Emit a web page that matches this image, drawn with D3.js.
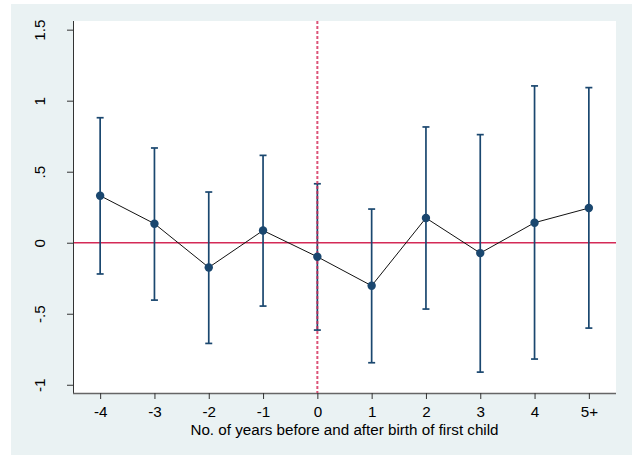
<!DOCTYPE html>
<html>
<head>
<meta charset="utf-8">
<script src="https://cdn.jsdelivr.net/npm/d3@7"></script>
<style>
  html, body { margin: 0; padding: 0; background: #ffffff; }
  svg { display: block; }
  text { font-family: "Liberation Sans", Arial, sans-serif; fill: #000; }
</style>
</head>
<body>
<div id="chart"></div>
<script>
// Event-study estimates with 95% confidence intervals
const periods   = ["-4", "-3", "-2", "-1", "0", "1", "2", "3", "4", "5+"];
const estimates = [0.331, 0.134, -0.174, 0.086, -0.099, -0.303, 0.174, -0.073, 0.141, 0.244];
const ciLower   = [-0.220, -0.404, -0.709, -0.446, -0.615, -0.845, -0.467, -0.911, -0.819, -0.601];
const ciUpper   = [0.880, 0.667, 0.357, 0.615, 0.415, 0.237, 0.815, 0.761, 1.104, 1.092];
const yTicks    = [-1, -0.5, 0, 0.5, 1, 1.5];
const yTickLabels = ["-1", "-.5", "0", ".5", "1", "1.5"];
const xTitle    = "No. of years before and after birth of first child";

const W = 637, H = 455;
const plot = { left: 73, right: 616, top: 21, bottom: 393 };
const fontSize = 15.2;

const svg = d3.select("#chart").append("svg")
  .attr("width", W).attr("height", H);

// graph region and plot region backgrounds
svg.append("rect").attr("x", 11).attr("y", 4)
  .attr("width", 621).attr("height", 451).attr("fill", "#eaf2f3");
svg.append("rect").attr("x", plot.left).attr("y", plot.top)
  .attr("width", plot.right - plot.left).attr("height", plot.bottom - plot.top)
  .attr("fill", "#ffffff");

const x = d3.scaleLinear().domain([-0.5, periods.length - 0.5])
  .range([plot.left, plot.right]);
const y = d3.scaleLinear().domain([-1.058, 1.561])
  .range([plot.bottom, plot.top]);

// y axis
const yAxis = d3.axisLeft(y).tickValues(yTicks)
  .tickSize(6).tickFormat((d, i) => yTickLabels[i]);
const gy = svg.append("g").attr("transform", `translate(${plot.left},0)`).call(yAxis);
gy.select(".domain").attr("stroke", "#333").attr("stroke-width", 1)
  .attr("d", `M0.5,${plot.top}V${plot.bottom}`);
gy.selectAll(".tick line").attr("stroke", "#333");
gy.selectAll(".tick text")
  .attr("font-size", fontSize)
  .attr("text-anchor", "middle")
  .attr("x", null).attr("dy", null)
  .attr("transform", "translate(-28,0) rotate(-90)");

// x axis
const xAxis = d3.axisBottom(x).tickValues(d3.range(periods.length))
  .tickSize(6).tickFormat(i => periods[i]);
const gx = svg.append("g").attr("transform", `translate(0,${plot.bottom})`).call(xAxis);
gx.select(".domain").attr("stroke", "#666").attr("stroke-width", 1.4)
  .attr("d", `M${plot.left},0.5H${plot.right}`);
gx.selectAll(".tick line").attr("stroke", "#333");
gx.selectAll(".tick text").attr("font-size", fontSize).attr("y", 24).attr("dy", null);

svg.append("text")
  .attr("x", (plot.left + plot.right) / 2).attr("y", 434.5)
  .attr("text-anchor", "middle").attr("font-size", fontSize)
  .text(xTitle);

const navy = "#1a476f";
const red = "#d42a57";

// reference line at zero
svg.append("line")
  .attr("x1", plot.left + 1).attr("x2", plot.right)
  .attr("y1", y(0)).attr("y2", y(0))
  .attr("stroke", red).attr("stroke-width", 1.6);

// confidence intervals
const bars = svg.append("g");
bars.selectAll("line.ci").data(periods).join("line")
  .attr("class", "ci")
  .attr("x1", (d, i) => x(i)).attr("x2", (d, i) => x(i))
  .attr("y1", (d, i) => y(ciLower[i])).attr("y2", (d, i) => y(ciUpper[i]))
  .attr("stroke", navy).attr("stroke-width", 1.7);
bars.selectAll("line.capU").data(periods).join("line")
  .attr("class", "capU")
  .attr("x1", (d, i) => x(i) - 3.5).attr("x2", (d, i) => x(i) + 3.5)
  .attr("y1", (d, i) => y(ciUpper[i])).attr("y2", (d, i) => y(ciUpper[i]))
  .attr("stroke", navy).attr("stroke-width", 1.7);
bars.selectAll("line.capL").data(periods).join("line")
  .attr("class", "capL")
  .attr("x1", (d, i) => x(i) - 3.5).attr("x2", (d, i) => x(i) + 3.5)
  .attr("y1", (d, i) => y(ciLower[i])).attr("y2", (d, i) => y(ciLower[i]))
  .attr("stroke", navy).attr("stroke-width", 1.7);

// event date marker
svg.append("line")
  .attr("x1", x(4)).attr("x2", x(4))
  .attr("y1", plot.top).attr("y2", plot.bottom)
  .attr("stroke", red).attr("stroke-width", 2)
  .attr("stroke-dasharray", "3,2").attr("opacity", 0.8);

// point estimates
svg.append("path")
  .datum(estimates)
  .attr("fill", "none").attr("stroke", "#111").attr("stroke-width", 1)
  .attr("d", d3.line().x((d, i) => x(i)).y(d => y(d)));
svg.selectAll("circle.pt").data(estimates).join("circle")
  .attr("class", "pt")
  .attr("cx", (d, i) => x(i)).attr("cy", d => y(d)).attr("r", 4.2)
  .attr("fill", navy);
</script>
</body>
</html>
